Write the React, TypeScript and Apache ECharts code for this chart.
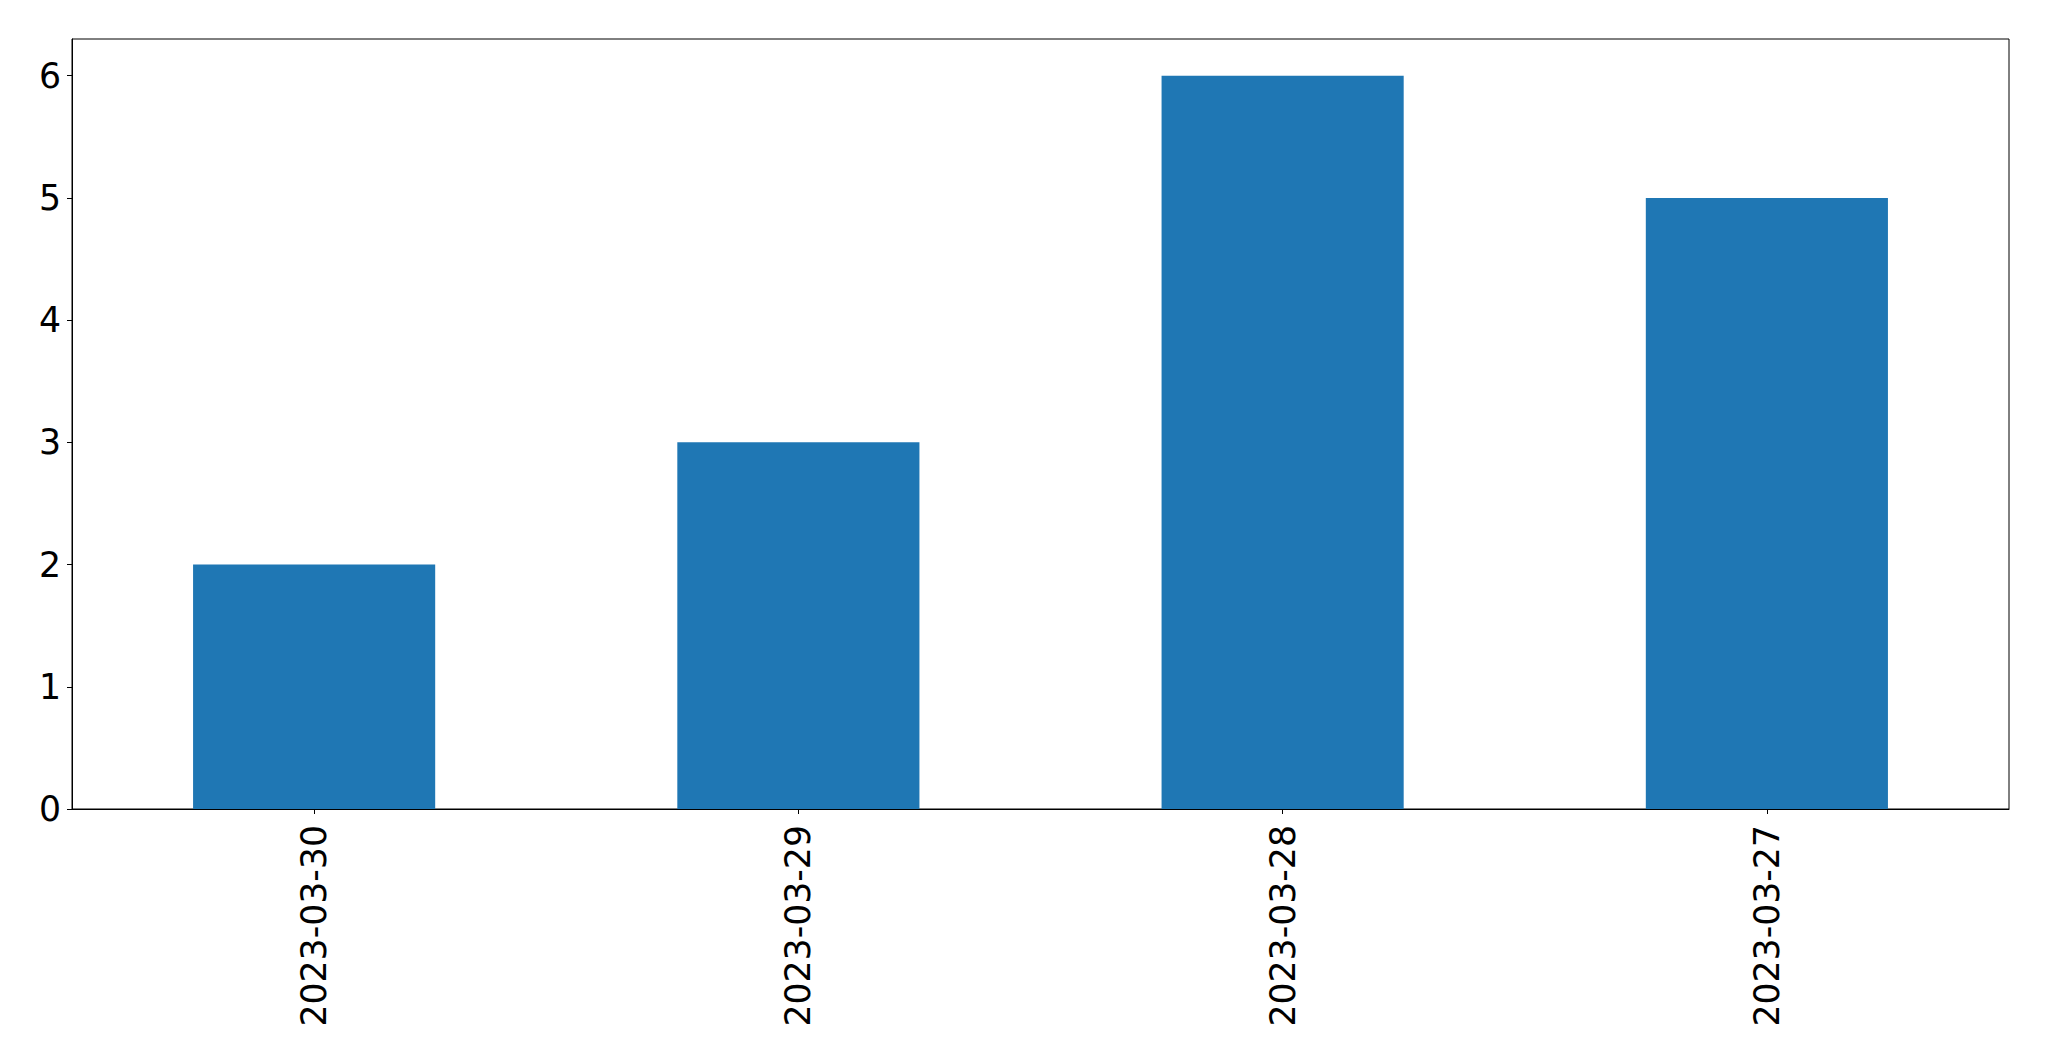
import React, { useEffect, useRef } from "react";
import * as echarts from "echarts";

const categories = ["2023-03-30", "2023-03-29", "2023-03-28", "2023-03-27"];
const values = [2, 3, 6, 5];
const yTicks = [0, 1, 2, 3, 4, 5, 6];

export default function App() {
  const ref = useRef<HTMLDivElement>(null);
  useEffect(() => {
    if (!ref.current) return;
    const chart = echarts.init(ref.current, null, { renderer: "svg" });
    const font = "DejaVu Sans";
    chart.setOption({
      animation: false,
      backgroundColor: "#ffffff",
      grid: {
        left: 72,
        top: 39,
        right: 40,
        bottom: 252,
        show: true,
        borderColor: "#000",
        borderWidth: 1,
        containLabel: false,
      },
      xAxis: {
        type: "category",
        data: categories,
        boundaryGap: true,
        axisLine: { show: true, lineStyle: { color: "#000", width: 1 } },
        axisTick: { show: true, alignWithLabel: true, length: 5, lineStyle: { color: "#000" } },
        axisLabel: {
          rotate: 90,
          margin: 16,
          fontSize: 34.7,
          fontFamily: font,
          color: "#000",
          interval: 0,
        },
        splitLine: { show: false },
      },
      yAxis: {
        type: "value",
        min: 0,
        max: 6.3,
        interval: 1,
        axisLine: { show: true, lineStyle: { color: "#000", width: 1 } },
        axisTick: { show: true, length: 5, lineStyle: { color: "#000" } },
        axisLabel: {
          margin: 11,
          fontSize: 34.7,
          fontFamily: font,
          color: "#000",
          showMaxLabel: false,
          formatter: (v: number) => (yTicks.includes(v) ? String(v) : ""),
        },
        splitLine: { show: false },
      },
      series: [
        {
          type: "bar",
          data: values,
          barWidth: "50%",
          itemStyle: { color: "#1f77b4" },
        },
      ],
    });
    return () => chart.dispose();
  }, []);
  return <div ref={ref} style={{ width: 2049, height: 1061, position: "absolute", left: 0, top: 0 }} />;
}
